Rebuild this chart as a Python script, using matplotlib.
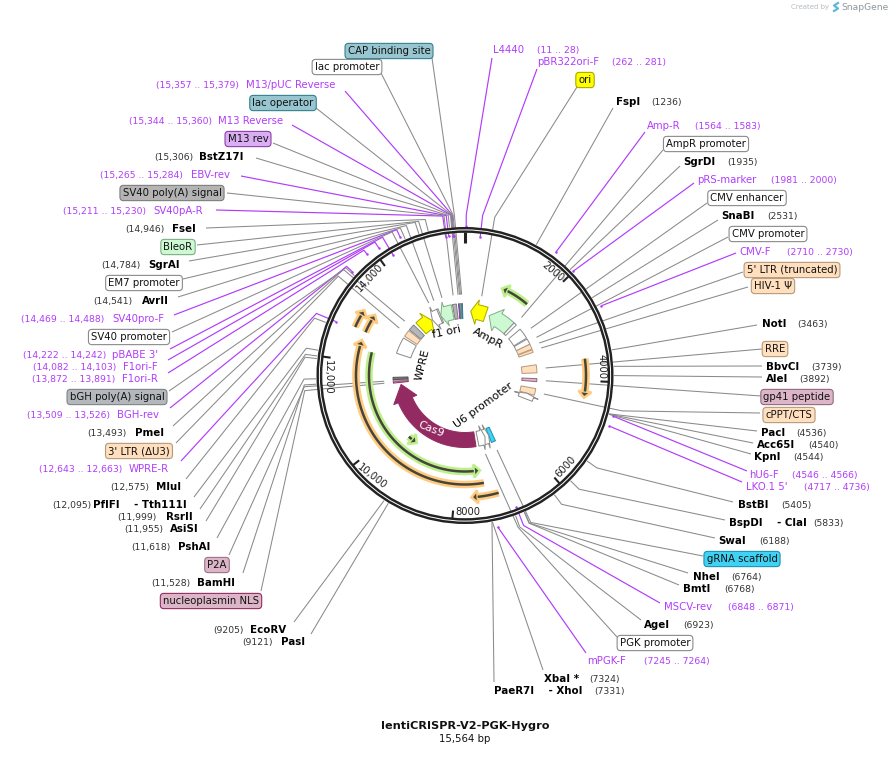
import numpy as np
import matplotlib
matplotlib.use("Agg")
import matplotlib.pyplot as plt
from matplotlib.patches import Polygon, Circle

# plasmid
plasmid_name = "lentiCRISPR-V2-PGK-Hygro"
plasmid_size = 15564
ruler_ticks = [2000, 4000, 6000, 8000, 10000, 12000, 14000]
ruler_labels = ["2000", "4000", "6000", "8000", "10,000", "12,000", "14,000"]

# restriction sites
enzyme_names = ["BstZ17I", "FseI", "SgrAI", "AvrII", "PmeI", "MluI", "PflFI    - Tth111I", "RsrII", "AsiSI",
                "PshAI", "BamHI", "EcoRV", "PasI", "FspI", "SgrDI", "SnaBI", "NotI", "BbvCI", "AleI",
                "PacI", "Acc65I", "KpnI", "BstBI", "BspDI    - ClaI", "SwaI", "NheI", "BmtI", "AgeI",
                "XbaI *", "PaeR7I    - XhoI"]
enzyme_sites = [15306, 14946, 14784, 14541, 13493, 12575, 12095, 11999, 11955,
                11618, 11528, 9205, 9121, 1236, 1935, 2531, 3463, 3739, 3892,
                4536, 4540, 4544, 5405, 5833, 6188, 6764, 6768, 6923,
                7324, 7331]

# primers
primer_names = ["M13/pUC Reverse", "M13 Reverse", "EBV-rev", "SV40pA-R", "SV40pro-F", "pBABE 3'", "F1ori-F",
                "F1ori-R", "BGH-rev", "WPRE-R", "L4440", "pBR322ori-F", "Amp-R", "pRS-marker", "CMV-F",
                "hU6-F", "LKO.1 5'", "MSCV-rev", "mPGK-F"]
primer_start = [15357, 15344, 15265, 15211, 14469, 14222, 14082, 13872, 13509, 12643, 11, 262, 1564, 1981, 2710,
                4546, 4717, 6848, 7245]
primer_end = [15379, 15360, 15284, 15230, 14488, 14242, 14103, 13891, 13526, 12663, 28, 281, 1583, 2000, 2730,
              4566, 4736, 6871, 7264]

# features on the inner ring, -1 / 1 is the strand, 0 is a plain block
feature_names = ["SV40 poly(A) signal", "M13 rev", "lac operator", "lac promoter", "CAP binding site", "ori",
                 "AmpR", "AmpR promoter", "CMV enhancer", "CMV promoter", "5' LTR (truncated)", "HIV-1 Ψ", "RRE",
                 "gp41 peptide", "cPPT/CTS", "hPGK", "gRNA scaffold", "U6 promoter", "PGK promoter", "Cas9",
                 "nucleoplasmin NLS", "P2A", "BPNLS", "WPRE", "3' LTR (ΔU3)", "bGH poly(A) signal", "f1 ori",
                 "SV40 promoter", "EM7 promoter", "BleoR"]
feature_start = [15130, 15340, 15385, 15410, 15450, 220,
                 950, 1860, 2160, 2575, 2780, 2985, 3520,
                 4000, 4345, 4580, 6700, 6850, 7000, 7400,
                 11410, 11470, 11530, 12450, 13100, 13380, 13705,
                 14250, 14560, 14612]
feature_end = [15265, 15362, 15405, 15440, 15472, 810,
               1860, 1965, 2540, 2780, 2960, 3080, 3800,
               4105, 4580, 4800, 6850, 7100, 7300, 11330,
               11460, 11525, 11610, 13030, 13340, 13600, 14223,
               14580, 14612, 15088]
feature_strand = [0, 0, 0, 0, 0, -1,
                  -1, 0, 0, 0, 0, 0, 0,
                  0, 0, -1, 0, -1, -1, 1,
                  0, 0, 0, 0, 0, 0, 1,
                  -1, 0, -1]

# open reading frames, from tail to head
orf_start = [7350, 12278, 9620, 7090, 12702, 12689, 1773, 3545]
orf_end = [12494, 7393, 9321, 7652, 13100, 13143, 994, 4349]

# layout in pixels ------------------------------------------------------------
W, H = 889, 775
CX, CY = 465, 375.5
R_RING = 145.6
R_ELBOW = 161
R_SITE = 149
R_IN, R_OUT = 57, 72
R_LEAD = 81

ENZ_COL = "#000000"
COORD_COL = "#333333"
PRIMER_COL = "#b13cfb"
LINE_COL = "#8a8a8a"
FS = 7.25
FS_BOLD = 7.4
FS_COORD = 6.7

# name x, coords x, y, line start x, y, elbow?
enzyme_layout = {
    "BstZ17I": (244, 193, 157, 256, 158, 1), "FseI": (196, 165, 229, 206, 228, 1),
    "SgrAI": (180, 141, 265, 189, 261, 1), "AvrII": (169, 132, 301, 178, 297, 1),
    "PmeI": (164, 127, 433, 173, 426, 1), "MluI": (181, 149, 487, 186, 479, 1),
    "PflFI    - Tth111I": (187, 91, 505, 194, 497, 1), "RsrII": (193, 157, 517, 200, 509, 1),
    "AsiSI": (199, 163, 529, 206, 521, 1), "PshAI": (210, 170, 547, 217, 538, 1),
    "BamHI": (235, 190, 583, 243, 573, 1), "EcoRV": (286, 244, 630, 294, 622, 0),
    "PasI": (305, 273, 642, 311, 634, 0), "FspI": (616, 651, 102, 613, 108, 0),
    "SgrDI": (683, 727, 162, 680, 166, 0), "SnaBI": (721, 767, 216, 718, 220, 0),
    "NotI": (762, 797, 324, 757, 325, 0), "BbvCI": (766, 811, 367, 762, 366, 0),
    "AleI": (766, 799, 379, 762, 377, 0), "PacI": (761, 796, 433, 757, 431, 0),
    "Acc65I": (757, 808, 445, 753, 443, 0), "KpnI": (754, 793, 457, 751, 454, 0),
    "BstBI": (738, 781, 505, 733, 502, 1), "BspDI    - ClaI": (729, 813, 523, 725, 520, 1),
    "SwaI": (718, 759, 541, 715, 538, 1), "NheI": (693, 731, 577, 688, 573, 1),
    "BmtI": (683, 724, 589, 679, 585, 1), "AgeI": (644, 683, 625, 641, 620, 1),
    "XbaI *": (544, 589, 679, 543, 670, 0), "PaeR7I    - XhoI": (494, 594, 691, 494, 682, 0),
}
# name x, coords x, y, line start x, y, elbow?, end radius
primer_layout = {
    "M13/pUC Reverse": (335, 239, 85, 345, 91, 1, 140), "M13 Reverse": (283, 212, 121, 292, 125, 1, 140),
    "EBV-rev": (230, 183, 175, 241, 176, 1, 140), "SV40pA-R": (203, 146, 211, 216, 210, 1, 140),
    "SV40pro-F": (164, 104, 319, 174, 315, 1, 153), "pBABE 3'": (158, 106, 355, 170, 349, 1, 140),
    "F1ori-F": (158, 116, 367, 168, 360, 1, 154), "F1ori-R": (158, 115, 379, 168, 373, 1, 156),
    "BGH-rev": (159, 110, 415, 170, 408, 1, 153), "WPRE-R": (169, 122, 469, 181, 461, 1, 140),
    "L4440": (493, 537, 50, 492, 58, 1, 150), "pBR322ori-F": (537, 612, 62, 537, 69, 1, 139),
    "Amp-R": (647, 695, 126, 645, 132, 0, 153), "pRS-marker": (697, 771, 180, 694, 183, 0, 150),
    "CMV-F": (739, 787, 252, 736, 253, 0, 153), "hU6-F": (749, 792, 475, 747, 471, 0, 154),
    "LKO.1 5'": (746, 804, 487, 742, 482, 0, 153), "MSCV-rev": (664, 728, 607, 660, 603, 1, 141),
    "mPGK-F": (587, 644, 661, 586, 653, 0, 155),
}
# centre x, y, line start x, y, elbow in bp (None is a straight line)
feature_layout = {
    "CAP binding site": (389, 51, 432, 58, 15400), "lac promoter": (347, 67, 381, 73, 15380),
    "lac operator": (283, 103, 316, 108, 15360), "M13 rev": (248, 139, 273, 143, 15340),
    "SV40 poly(A) signal": (172, 193, 227, 193, 15240), "BleoR": (178, 247, 197, 245, 14840),
    "EM7 promoter": (144, 283, 183, 279, 14640), "SV40 promoter": (129, 337, 172, 332, 14400),
    "bGH poly(A) signal": (117, 397, 169, 391, 13450), "3' LTR (ΔU3)": (139, 451, 176, 443, 13320),
    "P2A": (217, 565, 229, 555, 11500), "nucleoplasmin NLS": (211, 601, 261, 591, 11440),
    "ori": (585, 80, 577, 87, 460), "AmpR promoter": (706, 144, 663, 150, None),
    "CMV enhancer": (747, 198, 707, 203, None), "CMV promoter": (768, 234, 728, 237, None),
    "5' LTR (truncated)": (792, 270, 743, 272, None), "HIV-1 Ψ": (773, 286, 748, 287, None),
    "RRE": (775, 349, 762, 349, None), "gp41 peptide": (797, 397, 761, 396, None),
    "cPPT/CTS": (789, 415, 760, 413, 4440), "gRNA scaffold": (742, 559, 703, 556, 6740),
    "PGK promoter": (655, 643, 617, 637, 6948),
}
feature_style = {
    "SV40 poly(A) signal": ("#b4b4b4", "#7d7d7d"), "M13 rev": ("#d9aef2", "#8e3fa8"),
    "lac operator": ("#98c6d0", "#35808f"), "lac promoter": ("#ffffff", "#8a8a8a"),
    "CAP binding site": ("#98c6d0", "#35808f"), "ori": ("#ffff00", "#a8a800"),
    "AmpR": ("#ccf9d2", "#7fae85"), "AmpR promoter": ("#ffffff", "#8a8a8a"),
    "CMV enhancer": ("#ffffff", "#8a8a8a"), "CMV promoter": ("#ffffff", "#8a8a8a"),
    "5' LTR (truncated)": ("#ffdfbd", "#b59a7c"), "HIV-1 Ψ": ("#ffdfbd", "#b59a7c"),
    "RRE": ("#ffdfbd", "#b59a7c"), "gp41 peptide": ("#dcb6c8", "#8f6a7c"),
    "cPPT/CTS": ("#ffdfbd", "#b59a7c"), "hPGK": ("#ffffff", "#8a8a8a"),
    "gRNA scaffold": ("#3fd2f4", "#1c93b0"), "U6 promoter": ("#ffffff", "#8a8a8a"),
    "PGK promoter": ("#ffffff", "#8a8a8a"), "Cas9": ("#942a62", "#942a62"),
    "nucleoplasmin NLS": ("#dcb6c8", "#942a62"), "P2A": ("#dcb6c8", "#9a7488"),
    "BPNLS": ("#777777", "#555555"), "WPRE": ("#ffffff", "#8a8a8a"),
    "3' LTR (ΔU3)": ("#ffdfbd", "#b59a7c"), "bGH poly(A) signal": ("#b4b8bc", "#808488"),
    "f1 ori": ("#ffff00", "#a8a800"), "SV40 promoter": ("#ffffff", "#8a8a8a"),
    "EM7 promoter": ("#ffffff", "#8a8a8a"), "BleoR": ("#ccf9d2", "#7fae85"),
}
# orf radius and halo colour
orf_style = [(109, "#ffcb80"), (96, "#bdf08c"), (83, "#bdf08c"), (122, "#ffcb80"),
             (120, "#ffcb80"), (108.5, "#ffcb80"), (94.5, "#bdf08c"), (121, "#ffcb80")]
inner_labels = [("AmpR", 488, 338, -28, "black"), ("f1 ori", 447, 332, 12, "black"), ("WPRE", 423, 365, 76, "black"),
                ("U6 promoter", 483, 405, 36, "black"), ("Cas9", 431, 429, -22, "white")]
ruler_label_pos = [(553, 272, -40), (602, 367, -90), (566, 467, 47), (468, 512, 0),
                   (372, 476, -38), (328, 377, -90), (370, 278, 47)]


def polar(bp, r):
    th = 2 * np.pi * np.asarray(bp, dtype=float) / plasmid_size
    return CX + r * np.sin(th), CY - r * np.cos(th)


def fmt(bp):
    return f"{bp:,}" if bp >= 10000 else str(bp)


def leader(start, bp, r_end, elbow_bp, color, lw=0.75):
    pts = [start]
    if elbow_bp is not None:
        pts.append(polar(elbow_bp, R_ELBOW))
    pts.append(polar(bp, r_end))
    xs, ys = zip(*pts)
    ax.plot(xs, ys, color=color, lw=lw, zorder=2, solid_capstyle="butt")


fig = plt.figure(figsize=(W / 100, H / 100), dpi=100)
ax = fig.add_axes([0, 0, 1, 1])
ax.set_xlim(0, W)
ax.set_ylim(H, 0)
ax.axis("off")

# enzymes
for name, site in zip(enzyme_names, enzyme_sites):
    nx, cx_, y, sx, sy, elbow = enzyme_layout[name]
    left = nx < CX
    ax.text(nx, y, name, fontsize=FS_BOLD, fontweight="bold", color=ENZ_COL, va="center", ha="right" if left else "left")
    ax.text(cx_, y + 0.5, f"({fmt(site)})", fontsize=FS_COORD, color=COORD_COL, va="center",
            ha="right" if left else "left")
    leader((sx, sy), site, R_SITE, site if elbow else None, LINE_COL)

# primers
for name, a, b in zip(primer_names, primer_start, primer_end):
    nx, cx_, y, sx, sy, elbow, r_end = primer_layout[name]
    left = nx < CX
    mid = (a + b) / 2
    ax.text(nx, y, name, fontsize=FS, color=PRIMER_COL, va="center", ha="right" if left else "left")
    ax.text(cx_, y + 0.5, f"({fmt(a)} .. {fmt(b)})", fontsize=FS_COORD, color=PRIMER_COL, va="center",
            ha="right" if left else "left")
    leader((sx, sy), mid, r_end, mid if elbow else None, PRIMER_COL, lw=0.85)
    ex, ey = polar(mid, r_end)
    ax.plot([ex], [ey], marker="o", ms=1.8, color=PRIMER_COL, mew=0, zorder=3)

# features: leader, label and block
for name, a, b, strand in zip(feature_names, feature_start, feature_end, feature_strand):
    fc, ec = feature_style[name]
    if name in feature_layout:
        tx, ty, sx, sy, elbow = feature_layout[name]
        ax.text(tx, ty, name, fontsize=FS, color="#111111", va="center", ha="center", zorder=5,
                bbox=dict(boxstyle="round,pad=0.26,rounding_size=0.35", fc=fc, ec=ec, lw=0.8))
        leader((sx, sy), (a + b) / 2, R_LEAD, elbow, LINE_COL)

    span = b - a
    head = 620 if span > 3000 else 0.42 * span
    if strand == 0:
        angles = np.linspace(a, b, 12)
        outer = np.column_stack(polar(angles, R_OUT))
        inner = np.column_stack(polar(angles[::-1], R_IN))
        pts = np.vstack([outer, inner])
    elif strand > 0:
        angles = np.linspace(a, b - head, 60)
        outer = np.column_stack(polar(angles, R_OUT))
        inner = np.column_stack(polar(angles[::-1], R_IN))
        tip = [polar(b, (R_IN + R_OUT) / 2)]
        pts = np.vstack([outer, [polar(b - head, R_OUT + 5)], tip, [polar(b - head, R_IN - 5)], inner])
    else:
        angles = np.linspace(a + head, b, 30)
        outer = np.column_stack(polar(angles, R_OUT))
        inner = np.column_stack(polar(angles[::-1], R_IN))
        tip = [polar(a, (R_IN + R_OUT) / 2)]
        pts = np.vstack([tip, [polar(a + head, R_OUT + 5)], outer, inner, [polar(a + head, R_IN - 5)]])
    ax.add_patch(Polygon(pts, closed=True, fc=fc, ec=ec, lw=0.7, zorder=3, joinstyle="miter"))

# orfs
for a, b, (r, halo) in zip(orf_start, orf_end, orf_style):
    step = 1 if b > a else -1
    head = 130 * step * (120 / r)
    angles = np.linspace(a, b - head, 120)
    xs, ys = polar(angles, r)
    ax.plot(xs, ys, color=halo, lw=5.4, zorder=3, solid_capstyle="butt")
    hb = b - head
    tri = [polar(b, r), polar(hb, r + 6.5), polar(hb, r - 6.5)]
    ax.add_patch(Polygon(tri, closed=True, fc="#4a4a3c", ec=halo, lw=1.8, zorder=3.5, joinstyle="miter"))
    ax.plot(xs, ys, color="#45453a", lw=1.8, zorder=4, solid_capstyle="butt")

# backbone ring
ax.add_patch(Circle((CX, CY), R_RING, fill=False, ec="#222222", lw=4.2, zorder=6))
ax.add_patch(Circle((CX, CY), R_RING, fill=False, ec="white", lw=0.7, zorder=6.1))

# ruler
for t, lab, (lx, ly, rot) in zip(ruler_ticks, ruler_labels, ruler_label_pos):
    x0, y0 = polar(t, R_RING - 2)
    x1, y1 = polar(t, R_RING - 10)
    ax.plot([x0, x1], [y0, y1], color="#222222", lw=1.5, zorder=6, solid_capstyle="butt")
    ax.text(lx, ly, lab, fontsize=7.2, color="#222222", rotation=rot, rotation_mode="anchor",
            ha="center", va="center", zorder=6)
x0, y0 = polar(0, R_RING - 2)
x1, y1 = polar(0, R_RING - 13)
ax.plot([x0, x1], [y0, y1], color="#222222", lw=2.2, zorder=6, solid_capstyle="butt")

for txt, x, y, rot, col in inner_labels:
    ax.text(x, y, txt, fontsize=7.9, color=col, rotation=rot, rotation_mode="anchor", ha="center", va="center",
            zorder=7)

ax.text(465, 726, plasmid_name, fontsize=8.1, fontweight="bold", color="#111111", ha="center", va="center")
ax.text(465, 739, f"{plasmid_size:,} bp", fontsize=7.25, color="#111111", ha="center", va="center")

# snapgene mark
ax.text(829, 7, "Created by", fontsize=5, color="#b5bcc0", ha="right", va="center")
ax.plot([838, 834, 838, 834], [3, 5.5, 8.5, 11], color="#5fb7dc", lw=1.6, zorder=3)
ax.text(841, 7, "SnapGene", fontsize=6.6, color="#8c979c", ha="left", va="center")

fig.savefig("out.png", dpi=100)
